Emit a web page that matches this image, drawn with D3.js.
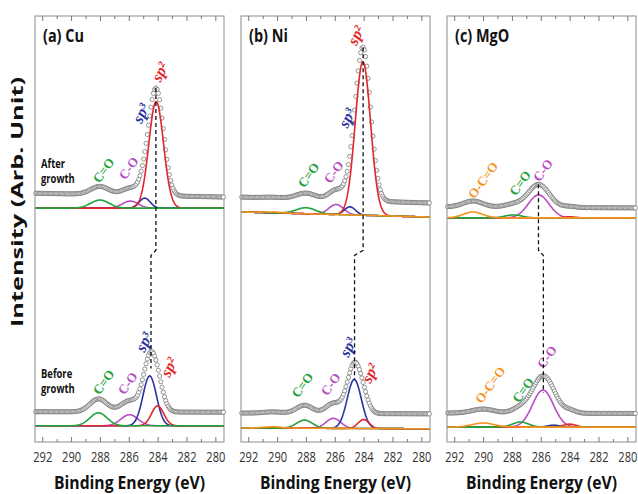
<!DOCTYPE html>
<html lang="en">
<head>
<meta charset="UTF-8">
<script src="https://cdn.jsdelivr.net/npm/d3@7"></script>
<title>XPS C 1s</title>
<style>
    body { margin: 0; background: #fff; }
    text { font-family: "Open Sans", "Noto Sans", sans-serif; }
</style>
</head>
<body>
<script>
// ---- data ----
let panelNames = ["(a) Cu", "(b) Ni", "(c) MgO"]
let xTicks = [292, 290, 288, 286, 284, 282, 280]
let xMinor = [291, 289, 287, 285, 283, 281]
let xDomain = [292.5, 279.4]
let yDomain = [0, 100]

// fitted components: [name, centre (eV), height (a.u.), FWHM (eV)]
let cuAfterPeaks = [["sp²", 284.1, 25.0, 1.2], ["sp³", 284.9, 2.35, 0.9], ["C-O", 285.9, 1.65, 1.3], ["C=O", 288.0, 1.9, 1.5]]
let cuBeforePeaks = [["sp³", 284.55, 11.7, 1.1], ["sp²", 284.0, 4.7, 1.0], ["C-O", 285.95, 2.6, 1.4], ["C=O", 288.1, 3.05, 1.4]]
let niAfterPeaks = [["sp²", 284.05, 36.0, 1.25], ["sp³", 284.95, 1.9, 0.9], ["C-O", 285.9, 2.35, 1.2], ["C=O", 288.0, 1.4, 1.6], ["O-C=O", 290.3, 0.2, 1.5]]
let niBeforePeaks = [["sp³", 284.65, 11.5, 1.15], ["sp²", 284.0, 2.1, 0.9], ["C-O", 286.1, 2.35, 1.2], ["C=O", 288.1, 1.9, 1.3], ["O-C=O", 290.3, 0.3, 1.5]]
let mgoAfterPeaks = [["C-O", 286.15, 5.4, 1.7], ["O-C=O", 290.7, 1.4, 1.6], ["C=O", 287.9, 0.7, 1.4], ["sp²", 284.0, 0.25, 1.0]]
let mgoBeforePeaks = [["C-O", 285.85, 8.7, 1.7], ["O-C=O", 290.0, 0.95, 1.8], ["C=O", 287.4, 1.2, 1.3], ["sp³", 285.1, 0.45, 1.0], ["sp²", 284.0, 0.7, 1.0]]

// background under the fit [high BE end, low BE end] and extra level of the measured points
let cuAfterBase = [54.9, 54.9], cuAfterBg = [3.5, 2.6]
let cuBeforeBase = [3.8, 3.8], cuBeforeBg = [3.3, 3.2]
let niAfterBase = [54.0, 52.8], niAfterBg = [3.5, 3.3]
let niBeforeBase = [3.3, 3.1], niBeforeBg = [3.5, 3.5]
let mgoAfterBase = [52.6, 52.6], mgoAfterBg = [2.6, 2.35]
let mgoBeforeBase = [3.5, 3.5], mgoBeforeBg = [3.3, 3.2]

// peak labels: [name, energy, level]
let cuAfterLabels = [["C=O", 287.76, 63.8], ["C-O", 286.02, 64.3], ["sp³", 285.18, 77.2], ["sp²", 283.86, 86.9]]
let cuBeforeLabels = [["C=O", 287.76, 14.1], ["C-O", 286.09, 13.8], ["sp³", 284.97, 23.5], ["sp²", 283.23, 17.6]]
let niAfterLabels = [["C=O", 287.83, 62.7], ["C-O", 286.09, 63.4], ["sp³", 285.18, 76.1], ["sp²", 284.56, 95.5]]
let niBeforeLabels = [["C=O", 288.25, 13.4], ["C-O", 286.3, 13.6], ["sp³", 285.11, 22.3], ["sp²", 283.58, 16.2]]
let mgoAfterLabels = [["O-C=O", 290.01, 61.5], ["C=O", 287.45, 60.8], ["C-O", 285.86, 63.8]]
let mgoBeforeLabels = [["O-C=O", 289.52, 13.4], ["C=O", 287.24, 12.2], ["C-O", 285.58, 20.0]]

// level where the guide line steps from the after peak to the before peak
let jogLevels = [45.0, 43.8]

let colors = {"sp²": "#e3262b", "sp³": "#2b34a0", "C-O": "#b84cc2", "C=O": "#22a23a", "O-C=O": "#f7921e"}
let drawOrder = ["C-O", "sp³", "sp²", "C=O", "O-C=O"]

let spectra = [
    [0, cuAfterPeaks, cuAfterBase, cuAfterBg, cuAfterLabels],
    [0, cuBeforePeaks, cuBeforeBase, cuBeforeBg, cuBeforeLabels],
    [1, niAfterPeaks, niAfterBase, niAfterBg, niAfterLabels],
    [1, niBeforePeaks, niBeforeBase, niBeforeBg, niBeforeLabels],
    [2, mgoAfterPeaks, mgoAfterBase, mgoAfterBg, mgoAfterLabels],
    [2, mgoBeforePeaks, mgoBeforeBase, mgoBeforeBg, mgoBeforeLabels]
]

// ---- layout ----
let width = 638
let height = 494
let panelLeft = [35, 241, 447]
let panelW = 189
let plotTop = 16, plotBottom = 442

let svg = d3.select("body").append("svg")
    .attr("width", width)
    .attr("height", height)

let y = d3.scaleLinear().domain(yDomain).range([plotBottom, plotTop])
let grid = d3.range(xDomain[0] - 0.05, xDomain[1], -0.05)
let dots = d3.range(xDomain[0] - 0.05, xDomain[1], -0.085)

function gauss(p, e) {
    return p[2] * Math.exp(-4 * Math.LN2 * (e - p[1]) ** 2 / (p[3] * p[3]))
}
function lin(v, e) {
    let t = (xDomain[0] - e) / (xDomain[0] - xDomain[1])
    return v[0] + (v[1] - v[0]) * t
}

panelNames.forEach((name, i) => {
    let x = d3.scaleLinear().domain(xDomain).range([panelLeft[i], panelLeft[i] + panelW])
    let g = svg.append("g")

    g.append("rect")
        .attr("x", panelLeft[i]).attr("y", plotTop)
        .attr("width", panelW).attr("height", plotBottom - plotTop)
        .attr("fill", "none").attr("stroke", "#8c8c8c").attr("stroke-width", 1)

    let bx = g.append("g").attr("transform", `translate(0,${plotBottom})`)
        .call(d3.axisBottom(x).tickValues(xTicks).tickSize(-5).tickPadding(9))
    bx.append("g").call(d3.axisBottom(x).tickValues(xMinor).tickSize(-3).tickFormat(""))
    let tx = g.append("g").attr("transform", `translate(0,${plotTop})`)
        .call(d3.axisTop(x).tickValues(xTicks).tickSize(-5).tickFormat(""))
    tx.append("g").call(d3.axisTop(x).tickValues(xMinor).tickSize(-3).tickFormat(""))
    g.selectAll(".domain").remove()
    g.selectAll(".tick line").attr("stroke", "#777")
    bx.selectAll("text")
        .attr("font-size", 15).attr("fill", "#333")
        .attr("transform", "scale(0.74,1)")

    g.append("text")
        .attr("transform", `translate(${panelLeft[i] + 8},42) scale(0.85,1)`)
        .attr("font-size", 17).attr("font-weight", "bold").attr("fill", "#111")
        .text(name)

    g.append("text")
        .attr("x", panelLeft[i] + panelW / 2).attr("y", 489)
        .attr("text-anchor", "middle")
        .attr("font-size", 18).attr("font-weight", "bold").attr("fill", "#111")
        .attr("textLength", 151).attr("lengthAdjust", "spacingAndGlyphs")
        .text("Binding Energy (eV)")

    let peakEnergy = []
    spectra.filter(s => s[0] === i).forEach(s => {
        let peaks = s[1], base = s[2], bg = s[3]
        let env = e => lin(base, e) + lin(bg, e) + d3.sum(peaks, p => gauss(p, e))

        // measured points
        g.append("g").selectAll("circle")
            .data(dots)
            .join("circle")
            .attr("cx", e => x(e))
            .attr("cy", e => y(env(e)))
            .attr("r", 2.1)
            .attr("fill", "#fff")
            .attr("stroke", "#707070")
            .attr("stroke-width", 0.75)

        // fitted components
        let line = p => d3.line().x(e => x(e)).y(e => y(lin(base, e) + gauss(p, e)))(grid)
        let sorted = peaks.slice().sort((a, b) => drawOrder.indexOf(a[0]) - drawOrder.indexOf(b[0]))
        g.append("g").selectAll("path")
            .data(sorted)
            .join("path")
            .attr("d", line)
            .attr("fill", "none")
            .attr("stroke", p => colors[p[0]])
            .attr("stroke-width", 1.6)

        // labels
        g.append("g").selectAll("text")
            .data(s[4])
            .join("text")
            .attr("transform", l => `translate(${x(l[1])},${y(l[2])}) rotate(${l[0].startsWith("sp") ? -64 : -54})`)
            .attr("text-anchor", "middle")
            .attr("dy", "0.35em")
            .style("font-family", "'Liberation Serif', 'DejaVu Serif', serif")
            .attr("font-weight", "bold")
            .attr("font-style", l => l[0].startsWith("sp") ? "italic" : "normal")
            .attr("font-size", l => l[0].startsWith("sp") ? 16 : 13)
            .attr("fill", l => colors[l[0]])
            .text(l => l[0])

        let peakE = d3.greatest(dots, e => env(e))
        peakEnergy.push([peakE, env(peakE)])
    })

    // guide line from the after peak to the before peak
    let [a, b] = peakEnergy
    let guide = [[a[0], a[1]], [a[0], jogLevels[0]], [b[0], jogLevels[1]], [b[0], b[1] - 4]]
    g.append("path")
        .attr("d", d3.line().x(d => x(d[0])).y(d => y(d[1]))(guide))
        .attr("fill", "none")
        .attr("stroke", "#111")
        .attr("stroke-width", 1.3)
        .attr("stroke-dasharray", "4,3")
})

// state labels in panel (a)
let stateText = [["After", "growth", 64.3], ["Before", "growth", 15.0]]
stateText.forEach(t => {
    t.slice(0, 2).forEach((word, k) => {
        svg.append("text")
            .attr("transform", `translate(41,${y(t[2]) + k * 15}) scale(0.82,1)`)
            .attr("font-size", 11.5).attr("font-weight", "bold").attr("fill", "#111")
            .text(word)
    })
})

svg.append("text")
    .attr("transform", "translate(23,202) rotate(-90) scale(1,0.78)")
    .attr("text-anchor", "middle")
    .attr("font-size", 20).attr("font-weight", "bold").attr("fill", "#111")
    .attr("textLength", 250).attr("lengthAdjust", "spacingAndGlyphs")
    .text("Intensity (Arb. Unit)")
</script>
</body>
</html>
